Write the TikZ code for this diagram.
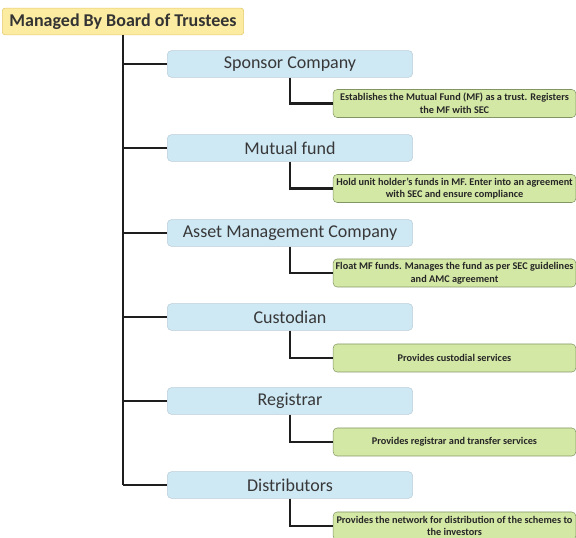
\documentclass[tikz,border=0pt]{standalone}
\usepackage{fontspec}
\setmainfont{Carlito}
\usetikzlibrary{calc,positioning}
\definecolor{trustfill}{RGB}{252,236,162}
\definecolor{trustdraw}{RGB}{230,200,110}
\definecolor{rolefill}{RGB}{206,232,244}
\definecolor{roledraw}{RGB}{188,206,216}
\definecolor{dutyfill}{RGB}{212,232,166}
\definecolor{dutydraw}{RGB}{130,150,100}
\definecolor{linkcol}{RGB}{30,30,30}
\begin{document}
\begin{tikzpicture}[x=0.75pt,y=-0.75pt,
	trustbox/.style={draw=trustdraw,fill=trustfill,rounded corners=2pt,minimum width=181pt,minimum height=20pt,inner sep=1pt,text=black!80,font=\fontsize{13.5}{15}\selectfont\bfseries},
	rolebox/.style={draw=roledraw,fill=rolefill,rounded corners=3pt,minimum width=184pt,minimum height=20pt,inner sep=1pt,text=black!78,font=\fontsize{13.5}{15}\selectfont},
	dutybox/.style={draw=dutydraw,fill=dutyfill,rounded corners=3pt,minimum width=182pt,minimum height=21pt,inner sep=1pt,align=center,text=black!85,font=\fontsize{7.7}{9.5}\selectfont\bfseries},
	link/.style={draw=linkcol,line width=1.6pt}]
	\clip (0,0) rectangle (576,538);
	\node (TRUST) at (123,21.5) [trustbox] {Managed By Board of Trustees};
	
	\node (SPON) at (290,64) [rolebox] {Sponsor Company};
	\node (MUT) at (290,148) [rolebox] {Mutual fund};
	\node (AMC) at (290,233) [rolebox] {Asset Management Company};
	\node (CUST) at (290,317) [rolebox] {Custodian};
	\node (REG) at (290,401) [rolebox] {Registrar};
	\node (DIST) at (290,485) [rolebox] {Distributors};
	
	\node (SPONd) at (454.5,103.5) [dutybox] {Establishes the Mutual Fund (MF) as a trust. Registers\\the MF with SEC};
	\node (MUTd) at (454.5,188.5) [dutybox] {Hold unit holder's funds in MF. Enter into an agreement\\with SEC and ensure compliance};
	\node (AMCd) at (454.5,273) [dutybox] {Float MF funds. Manages the fund as per SEC guidelines\\and AMC agreement};
	\node (CUSTd) at (454.5,358) [dutybox] {Provides custodial services};
	\node (REGd) at (454.5,442) [dutybox] {Provides registrar and transfer services};
	\node (DISTd) at (454.5,526) [dutybox] {Provides the network for distribution of the schemes to\\the investors};
	
	% trunk and branches
	\draw[link] (TRUST.south) -- (TRUST.south |- DIST.west);
	\draw[link] (TRUST.south |- SPON.west) -- (SPON.west);
	\draw[link] (TRUST.south |- MUT.west) -- (MUT.west);
	\draw[link] (TRUST.south |- AMC.west) -- (AMC.west);
	\draw[link] (TRUST.south |- CUST.west) -- (CUST.west);
	\draw[link] (TRUST.south |- REG.west) -- (REG.west);
	\draw[link] (TRUST.south |- DIST.west) -- (DIST.west);
	
	\draw[link] (SPON.south) |- (SPONd.west);
	\draw[link] (MUT.south) |- (MUTd.west);
	\draw[link] (AMC.south) |- (AMCd.west);
	\draw[link] (CUST.south) |- (CUSTd.west);
	\draw[link] (REG.south) |- (REGd.west);
	\draw[link] (DIST.south) |- (DISTd.west);
\end{tikzpicture}
\end{document}
